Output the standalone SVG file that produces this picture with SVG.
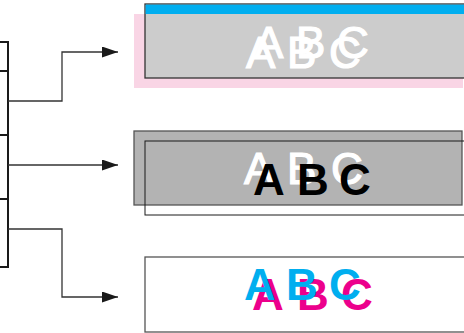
<svg xmlns="http://www.w3.org/2000/svg" width="464" height="333" viewBox="0 0 464 333">
<style>
.conn{fill:none;stroke:#333;stroke-width:1.3}
.reg{font-family:"Liberation Sans",Arial,sans-serif;font-size:44px;stroke:#fff;stroke-width:1.2}
.bold{font-family:"Liberation Sans",Arial,sans-serif;font-size:44px;font-weight:bold}
</style>
<defs>
<marker id="arr" markerWidth="16" markerHeight="11" refX="16" refY="5.5" orient="auto" markerUnits="userSpaceOnUse">
<path d="M0,0 L16,5.5 L0,11 Z" fill="#1a1a1a"/>
</marker>
</defs>
<g id="source">
<rect x="-10" y="42" width="18" height="225" fill="#fff" stroke="#1a1a1a" stroke-width="2"/>
<line x1="-10" y1="71" x2="8" y2="71" stroke="#1a1a1a" stroke-width="2"/>
<line x1="-10" y1="135" x2="8" y2="135" stroke="#1a1a1a" stroke-width="2"/>
<line x1="-10" y1="199" x2="8" y2="199" stroke="#1a1a1a" stroke-width="2"/>
</g>
<g id="connectors">
<polyline class="conn" points="8,101 62,101 62,52 118,52" marker-end="url(#arr)"/>
<polyline class="conn" points="8,165 118,165" marker-end="url(#arr)"/>
<polyline class="conn" points="8,229 62,229 62,297 118,297" marker-end="url(#arr)"/>
</g>
<g id="top">
<rect x="134" y="14" width="329" height="74" fill="#f9d5e5"/>
<rect x="145" y="4" width="320" height="74" fill="#cccccc" stroke="#333" stroke-width="1.3"/>
<rect x="145.6" y="4.6" width="320" height="9.4" fill="#00aeef"/>
<text class="reg" fill="#fff"><tspan x="246" y="68">A</tspan><tspan x="287" y="68">B</tspan><tspan x="329" y="68">C</tspan></text>
<text class="reg" fill="#fff"><tspan x="254" y="58">A</tspan><tspan x="296" y="58">B</tspan><tspan x="337" y="58">C</tspan></text>
</g>
<g id="middle">
<rect x="134" y="131" width="328" height="74" fill="#b3b3b3" stroke="#555" stroke-width="1.3"/>
<rect x="145" y="141" width="330" height="74" fill="none" stroke="#1a1a1a" stroke-width="1"/>
<text class="reg" fill="#fff"><tspan x="244" y="184">A</tspan><tspan x="287" y="184">B</tspan><tspan x="331" y="184">C</tspan></text>
<text class="bold" fill="#000"><tspan x="253" y="195">A</tspan><tspan x="297" y="195">B</tspan><tspan x="339" y="195">C</tspan></text>
</g>
<g id="bottom">
<rect x="145" y="257" width="330" height="75" fill="#fff" stroke="#555" stroke-width="1.3"/>
<text class="bold" fill="#ec008c"><tspan x="252" y="310">A</tspan><tspan x="297" y="310">B</tspan><tspan x="341" y="310">C</tspan></text>
<text class="bold" fill="#00aeef"><tspan x="244" y="300">A</tspan><tspan x="286" y="300">B</tspan><tspan x="329" y="300">C</tspan></text>
</g>
</svg>
